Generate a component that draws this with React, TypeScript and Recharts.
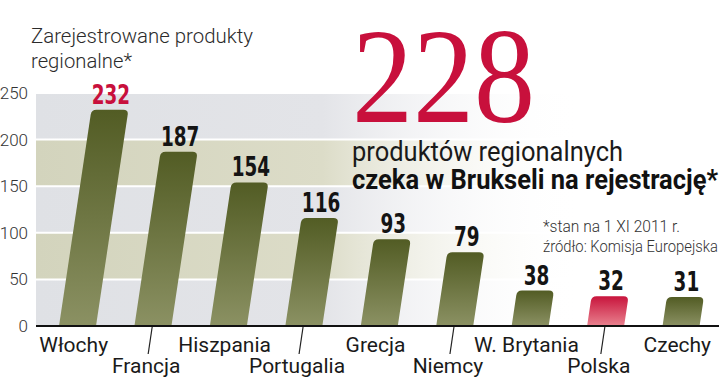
import React from "react"
import { BarChart, Bar, XAxis, YAxis, CartesianGrid, LabelList } from "recharts"

// ============ Data ============
const countries = [
  "Włochy",
  "Francja",
  "Hiszpania",
  "Portugalia",
  "Grecja",
  "Niemcy",
  "W. Brytania",
  "Polska",
  "Czechy",
]
const registered = [232, 187, 154, 116, 93, 79, 38, 32, 31]
const yTicks = [0, 50, 100, 150, 200, 250]
const highlightBar = "Polska"
const highlightLabel = "Włochy"

const data = countries.map((name, i) => ({ name, value: registered[i] }))

const SLANT = 0.15
const CRIMSON = "#c8103c"
const LIGHT = "Roboto, 'Open Sans', sans-serif"
const NARROW = "'DejaVu Sans Condensed', 'Liberation Sans', sans-serif"

// slanted bar with rounded top corners
function SlantBar(props: any) {
  const { x, y, width, height, payload } = props
  if (!height || height <= 0) return null
  const s = height * SLANT
  const r = 5
  const L = Math.sqrt(s * s + height * height)
  const dx = (r * s) / L
  const dy = (r * height) / L
  const b = y + height
  const tl = x + s
  const tr = x + width + s
  const d = [
    `M${x},${b}`,
    `L${tl - dx},${y + dy}`,
    `Q${tl},${y} ${tl + r},${y}`,
    `L${tr - r},${y}`,
    `Q${tr},${y} ${tr - dx},${y + dy}`,
    `L${x + width},${b}`,
    "Z",
  ].join(" ")
  const fill = payload?.name === highlightBar ? "url(#barRed)" : "url(#barOlive)"
  return <path d={d} fill={fill} />
}

function ValueLabel(props: any) {
  const { x, y, width, height, value, index } = props
  const s = height * SLANT
  const isRed = countries[index] === highlightLabel
  const len = String(value).length * 12.8
  return (
    <text
      x={x + width / 2 + s + 1 - len / 2}
      y={y - 6}
      fontFamily={NARROW}
      fontWeight={700}
      fontSize={26}
      fill={isRed ? CRIMSON : "#141414"}
      textLength={len}
      lengthAdjust="spacingAndGlyphs"
    >
      {value}
    </text>
  )
}

function CountryTick(props: any) {
  const { x, payload, index } = props
  const odd = index % 2 === 1
  return (
    <g>
      {odd && <line x1={x - 1} y1={327} x2={x - 5} y2={354} stroke="#222" strokeWidth={1.2} />}
      <text
        x={x + (odd ? -7 : -4)}
        y={odd ? 373 : 352}
        textAnchor="middle"
        fontFamily={LIGHT}
        fontSize={21}
        fill="#1a1a1a"
      >
        {payload.value}
      </text>
    </g>
  )
}

export default function App() {
  return (
    <div style={{ position: "absolute", left: 0, top: 0, width: 720, height: 379, background: "#fff" }}>
      <BarChart
        width={720}
        height={379}
        data={data}
        margin={{ top: 93, right: 1, bottom: 23, left: 0 }}
      >
        <defs>
          <linearGradient id="barOlive" x1="0" y1="0" x2="0" y2="1">
            <stop offset="0%" stopColor="#525c24" />
            <stop offset="100%" stopColor="#8b9163" />
          </linearGradient>
          <linearGradient id="barRed" x1="0" y1="0" x2="0" y2="1">
            <stop offset="0%" stopColor="#c8143c" />
            <stop offset="100%" stopColor="#e9828f" />
          </linearGradient>
          <linearGradient id="bandGray" x1="0" y1="0" x2="1" y2="0">
            <stop offset="0%" stopColor="#dfe1e5" />
            <stop offset="42%" stopColor="#e3e4e8" />
            <stop offset="80%" stopColor="#ffffff" stopOpacity={0} />
          </linearGradient>
          <linearGradient id="bandOlive" x1="0" y1="0" x2="1" y2="0">
            <stop offset="0%" stopColor="#d3d4bd" />
            <stop offset="42%" stopColor="#dcdcc8" />
            <stop offset="80%" stopColor="#ffffff" stopOpacity={0} />
          </linearGradient>
        </defs>
        <CartesianGrid
          vertical={false}
          stroke="#ffffff"
          strokeWidth={2}
          horizontalFill={["url(#bandGray)", "url(#bandOlive)"]}
          fillOpacity={1}
        />
        <XAxis
          dataKey="name"
          height={30}
          padding={{ left: 4, right: 0 }}
          axisLine={{ stroke: "#111", strokeWidth: 2 }}
          tickLine={false}
          interval={0}
          tick={<CountryTick />}
        />
        <YAxis
          width={36}
          domain={[0, 250]}
          ticks={yTicks}
          axisLine={false}
          tickLine={false}
          tick={{ fontSize: 17, fill: "#333", fontFamily: LIGHT, fontWeight: 300 }}
        />
        <Bar dataKey="value" barSize={37} shape={<SlantBar />} isAnimationActive={false}>
          <LabelList dataKey="value" content={<ValueLabel />} />
        </Bar>
      </BarChart>

      <svg
        width={720}
        height={379}
        style={{ position: "absolute", left: 0, top: 0, pointerEvents: "none" }}
      >
        <text x={31} y={43} fontFamily={LIGHT} fontWeight={300} fontSize={21} fill="#2b2b2b" textLength={222} lengthAdjust="spacingAndGlyphs">
          Zarejestrowane produkty
        </text>
        <text x={31} y={68} fontFamily={LIGHT} fontWeight={300} fontSize={21} fill="#2b2b2b" textLength={101} lengthAdjust="spacingAndGlyphs">
          regionalne*
        </text>
        <text x={352} y={122} fontFamily="'Liberation Serif', 'DejaVu Serif', serif" fontSize={136} fill={CRIMSON} textLength={183} lengthAdjust="spacingAndGlyphs">
          228
        </text>
        <text x={352} y={161} fontFamily={LIGHT} fontSize={27} fill="#1a1a1a" textLength={271} lengthAdjust="spacingAndGlyphs">
          produktów regionalnych
        </text>
        <text x={352} y={189} fontFamily={LIGHT} fontWeight={700} fontSize={27} fill="#111" textLength={366} lengthAdjust="spacingAndGlyphs">
          czeka w Brukseli na rejestrację*
        </text>
        <text x={543} y={232} fontFamily={LIGHT} fontWeight={300} fontSize={17} fill="#333" textLength={137} lengthAdjust="spacingAndGlyphs">
          *stan na 1 XI 2011 r.
        </text>
        <text x={543} y={252} fontFamily={LIGHT} fontWeight={300} fontSize={17} fill="#333" textLength={175} lengthAdjust="spacingAndGlyphs">
          źródło: Komisja Europejska
        </text>
      </svg>
    </div>
  )
}
